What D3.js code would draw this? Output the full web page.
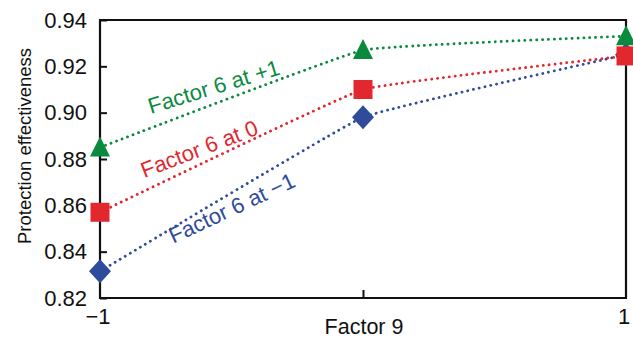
<!DOCTYPE html>
<html><head><meta charset="utf-8">
<script src="https://cdn.jsdelivr.net/npm/d3@7"></script>
<style>body{margin:0;background:#fff}svg{display:block}text{font-family:"Liberation Sans",Arial,Helvetica,sans-serif}</style>
</head><body><svg id="c" width="633" height="339"></svg>
<script>
const factor9 = [-1, 0, 1];
const factor6Plus1 = [0.885, 0.927, 0.933];
const factor6Zero = [0.857, 0.910, 0.9245];
const factor6Minus1 = [0.8315, 0.898, 0.925];
const seriesNames = ["Factor 6 at +1", "Factor 6 at 0", "Factor 6 at \u22121"];
const yTicks = [0.82, 0.84, 0.86, 0.88, 0.90, 0.92, 0.94];
const xTickLabels = ["\u22121", "1"];

const svg = d3.select("#c");
const L = 100, R = 626, T = 20, B = 298;
const x = d3.scaleLinear().domain([-1, 1]).range([L, R]);
const y = d3.scaleLinear().domain([0.82, 0.94]).range([B, T]);

svg.append("path").attr("d", `M${L},${T}H${R}V${B}H${L}Z`).attr("fill", "none").attr("stroke", "#111").attr("stroke-width", 2.2);

const yAx = svg.append("g").attr("transform", `translate(${L},0)`)
  .call(d3.axisRight(y).tickValues(yTicks).tickSize(7).tickFormat(""));
yAx.select(".domain").remove();
yAx.selectAll("line").attr("stroke", "#111").attr("stroke-width", 2);
svg.selectAll(".ylab").data(yTicks).enter().append("text")
  .attr("x", 87).attr("y", d => y(d) + 7.5).attr("text-anchor", "end")
  .attr("font-size", 22).attr("fill", "#111").text(d => d.toFixed(2));

const xAx = svg.append("g").attr("transform", `translate(0,${B})`)
  .call(d3.axisTop(x).tickValues([0]).tickSize(8).tickFormat(""));
xAx.select(".domain").remove();
xAx.selectAll("line").attr("stroke", "#111").attr("stroke-width", 2);
svg.selectAll(".xlab").data([-1, 1]).enter().append("text")
  .attr("x", d => x(d) - 2).attr("y", 324).attr("text-anchor", "middle")
  .attr("font-size", 22).attr("fill", "#111").text((d, i) => xTickLabels[i]);

svg.append("text").attr("x", x(0) + 1).attr("y", 334).attr("text-anchor", "middle")
  .attr("font-size", 21.5).attr("fill", "#111").text("Factor 9");
svg.append("text").attr("transform", `translate(31,146) rotate(-90)`)
  .attr("text-anchor", "middle").attr("font-size", 18.5).attr("fill", "#111").text("Protection effectiveness");

const series = [
  {name: seriesNames[0], vals: factor6Plus1, color: "#0b8a3e", sym: "tri", lab: [216, 94, -17]},
  {name: seriesNames[1], vals: factor6Zero, color: "#e2282e", sym: "sq", lab: [202, 156, -21]},
  {name: seriesNames[2], vals: factor6Minus1, color: "#2f4b9b", sym: "dia", lab: [235, 215, -25]}
];
const line = d3.line().x((d, i) => x(factor9[i])).y(d => y(d)).curve(d3.curveCardinal.tension(0.75));

[2, 1, 0].forEach(k => {
  const s = series[k];
  svg.append("path").attr("d", line(s.vals)).attr("fill", "none").attr("stroke", s.color)
    .attr("stroke-width", 2.8).attr("stroke-linecap", "round").attr("stroke-dasharray", "0.1,5.8");
});
[2, 1, 0].forEach(k => {
  const s = series[k];
  s.vals.forEach((v, i) => {
    const cx = x(factor9[i]), cy = y(v);
    if (s.sym === "sq") {
      svg.append("rect").attr("x", cx - 9.5).attr("y", cy - 9.5).attr("width", 19).attr("height", 19).attr("fill", s.color);
    } else if (s.sym === "tri") {
      svg.append("path").attr("d", `M${cx},${cy - 11}L${cx + 10},${cy + 9}L${cx - 10},${cy + 9}Z`).attr("fill", s.color);
    } else {
      svg.append("path").attr("d", `M${cx},${cy - 12}L${cx + 11},${cy}L${cx},${cy + 12}L${cx - 11},${cy}Z`).attr("fill", s.color);
    }
  });
  svg.append("text").attr("transform", `translate(${s.lab[0]},${s.lab[1]}) rotate(${s.lab[2]})`)
    .attr("text-anchor", "middle").attr("font-size", 22).attr("fill", s.color).text(s.name);
});
</script></body></html>
